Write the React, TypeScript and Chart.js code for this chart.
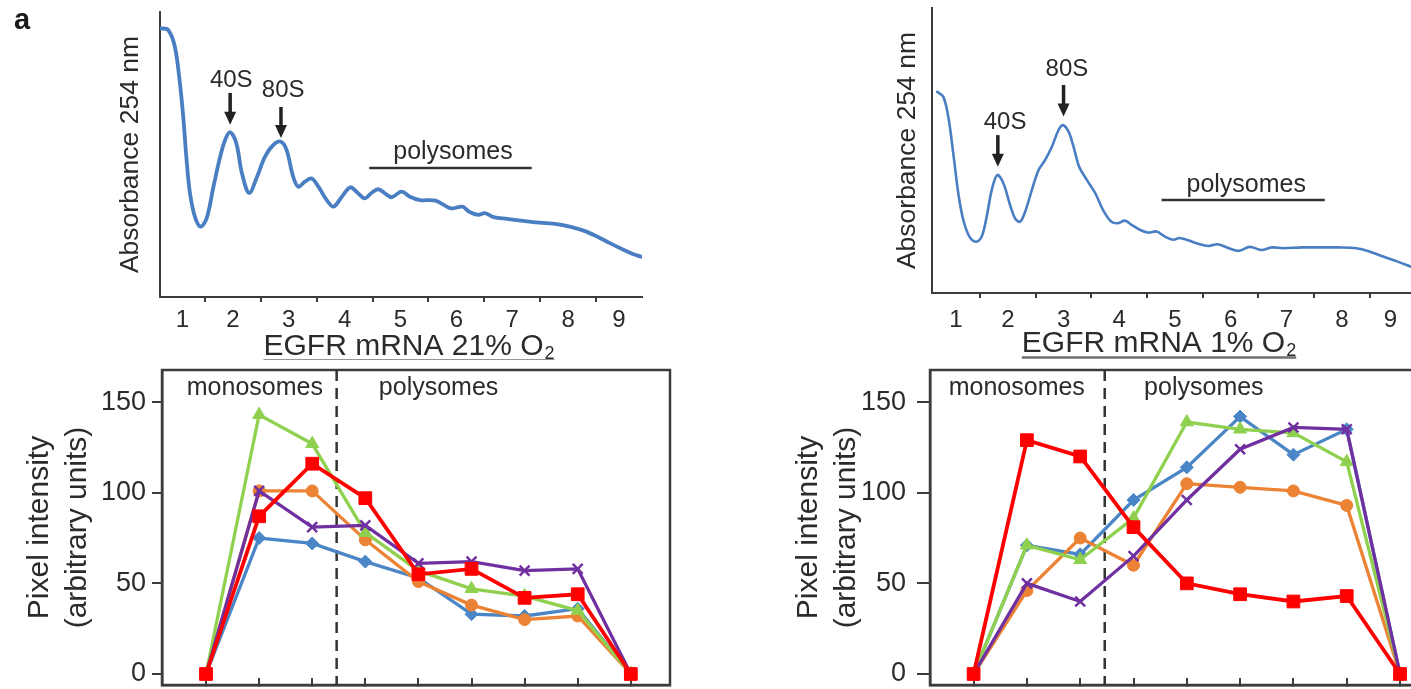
import { useEffect, useRef } from 'react';
import { Chart, registerables } from 'chart.js';

Chart.register(...registerables);

const FONT = '"Liberation Sans", Arial, Helvetica, sans-serif';
const INK = '#2b2b2b';
const AXIS = '#3c3c3c';
const TRACE_COLOR = '#4a7ec3';

// ---------- gradient fractions ----------
const fractionLabels = ['1', '2', '3', '4', '5', '6', '7', '8', '9'];
const fractionBoundaries = [1, 2, 3, 4, 5, 6, 7, 8];

// ---------- A254 trace, EGFR mRNA 21% O2 (position in fraction units, absorbance in % of axis) ----------
const trace21Position = [
  0.19, 0.34, 0.46, 0.55, 0.61, 0.67, 0.73, 0.82, 0.92, 1.03, 1.15, 1.27, 1.36, 1.45, 1.56, 1.66, 1.79, 1.93, 2.07, 2.22,
  2.36, 2.46, 2.58, 2.67, 2.79, 2.91, 3.03, 3.18, 3.3, 3.45, 3.6, 3.74, 3.86, 3.98, 4.1, 4.22, 4.34, 4.52, 4.67, 4.85,
  5.13, 5.4, 5.61, 5.73, 5.89, 6.01, 6.17, 6.41, 6.66, 6.98, 7.3, 7.53, 7.79, 8.02, 8.26, 8.5, 8.66, 8.81,
];
const trace21Absorbance = [
  94.3, 93.7, 87.8, 75.1, 63.2, 48.1, 36.5, 28.1, 24.7, 27.7, 38.6, 49.1, 55.1, 57.8, 54.0, 43.5, 36.5, 42.1, 49.1, 53.3,
  54.5, 51.6, 42.1, 38.7, 40.5, 41.6, 38.7, 34.0, 31.7, 35.2, 38.5, 36.4, 34.6, 36.5, 37.8, 36.4, 35.0, 37.0, 35.2, 34.0,
  33.8, 31.1, 31.7, 29.9, 28.8, 29.4, 28.0, 27.4, 26.8, 26.1, 25.6, 24.7, 23.2, 21.2, 18.8, 16.5, 15.1, 14.1,
];

// ---------- A254 trace, EGFR mRNA 1% O2 ----------
const trace1Position = [
  0.23, 0.34, 0.43, 0.52, 0.61, 0.7, 0.81, 0.93, 1.03, 1.12, 1.21, 1.31, 1.42, 1.53, 1.63, 1.72, 1.81, 1.93, 2.05, 2.17,
  2.29, 2.41, 2.49, 2.59, 2.68, 2.78, 2.92, 3.07, 3.21, 3.36, 3.48, 3.6, 3.72, 3.87, 4.02, 4.17, 4.32, 4.47, 4.59, 4.9,
  5.1, 5.27, 5.47, 5.65, 5.84, 6.05, 6.24, 6.45, 6.78, 7.1, 7.43, 7.76, 8.0, 8.25, 8.5, 8.74,
];
const trace1Absorbance = [
  70.6, 68.9, 61.9, 49.0, 35.0, 25.6, 19.8, 18.0, 19.8, 26.8, 36.1, 41.4, 38.5, 31.5, 26.2, 25.0, 28.5, 36.1, 43.1, 46.7,
  51.3, 57.2, 58.9, 56.6, 51.3, 44.3, 39.6, 35.0, 29.1, 25.0, 24.5, 25.4, 23.9, 22.2, 21.2, 21.6, 19.8, 18.7, 19.3, 17.4,
  16.5, 17.1, 15.7, 14.8, 16.2, 15.1, 16.0, 15.7, 16.0, 16.0, 16.0, 15.7, 14.5, 12.7, 11.0, 9.2,
];

// ---------- EGFR mRNA pixel intensity per fraction ----------
const fractions = [1, 2, 3, 4, 5, 6, 7, 8, 9];
const intensityTicks = [0, 50, 100, 150];

const normoxiaRed = [0, 87, 116, 97, 55, 58, 42, 44, 0];
const normoxiaPurple = [0, 101, 81, 82, 61, 62, 57, 58, 0];
const normoxiaGreen = [0, 143, 127, 78, 57, 47, 43, 35, 0];
const normoxiaOrange = [0, 101, 101, 74, 51, 38, 30, 32, 0];
const normoxiaBlue = [0, 75, 72, 62, 53, 33, 32, 36, 0];

const hypoxiaRed = [0, 129, 120, 81, 50, 44, 40, 43, 0];
const hypoxiaPurple = [0, 50, 40, 65, 96, 124, 136, 135, 0];
const hypoxiaGreen = [0, 71, 63, 86, 139, 135, 133, 117, 0];
const hypoxiaOrange = [0, 46, 75, 60, 105, 103, 101, 93, 0];
const hypoxiaBlue = [0, 71, 66, 96, 114, 142, 121, 135, 0];

const seriesStyles = [
  { color: '#ff0000', point: 'rect', radius: 9, width: 3.8 },
  { color: '#7030a0', point: 'crossRot', radius: 7, width: 3.3 },
  { color: '#8fd14f', point: 'triangle', radius: 7.5, width: 3.3 },
  { color: '#ec8233', point: 'circle', radius: 6, width: 3.3 },
  { color: '#4a86c6', point: 'rectRot', radius: 6.5, width: 3.3 },
];

// ---------- drawing helpers ----------
function drawItems(chart: any, items: any[]) {
  const { ctx, scales } = chart;
  const x = scales.x;
  const y = scales.y;
  ctx.save();
  for (const it of items) {
    if (it.kind === 'text') {
      ctx.font = `${it.size}px ${FONT}`;
      ctx.fillStyle = INK;
      ctx.textAlign = 'center';
      ctx.textBaseline = 'middle';
      ctx.fillText(it.text, x.getPixelForValue(it.x), y.getPixelForValue(it.y));
    } else if (it.kind === 'arrow') {
      const px = x.getPixelForValue(it.x);
      const y1 = y.getPixelForValue(it.from);
      const y2 = y.getPixelForValue(it.to);
      const head = 13;
      const half = 6;
      ctx.strokeStyle = '#222';
      ctx.lineWidth = 3.5;
      ctx.beginPath();
      ctx.moveTo(px, y1);
      ctx.lineTo(px, y2 - head + 1);
      ctx.stroke();
      ctx.fillStyle = '#222';
      ctx.beginPath();
      ctx.moveTo(px - half, y2 - head);
      ctx.lineTo(px + half, y2 - head);
      ctx.lineTo(px, y2);
      ctx.closePath();
      ctx.fill();
    } else if (it.kind === 'bar') {
      ctx.strokeStyle = '#333';
      ctx.lineWidth = 2.5;
      ctx.beginPath();
      const py = y.getPixelForValue(it.y);
      ctx.moveTo(x.getPixelForValue(it.x1), py);
      ctx.lineTo(x.getPixelForValue(it.x2), py);
      ctx.stroke();
    }
  }
  ctx.restore();
}

function drawXTitle(chart: any, t: any) {
  const { ctx } = chart;
  ctx.save();
  ctx.font = `30px ${FONT}`;
  const w1 = ctx.measureText(t.text).width;
  ctx.font = `18px ${FONT}`;
  const w2 = ctx.measureText(t.sub).width;
  const total = w1 + 1 + w2;
  const x0 = t.cx - total / 2;
  ctx.fillStyle = INK;
  ctx.textAlign = 'left';
  ctx.textBaseline = 'alphabetic';
  ctx.font = `30px ${FONT}`;
  ctx.fillText(t.text, x0, t.baseline);
  ctx.font = `18px ${FONT}`;
  ctx.fillText(t.sub, x0 + w1 + 1, t.baseline + 4);
  ctx.strokeStyle = '#707070';
  ctx.lineWidth = 2.5;
  ctx.beginPath();
  ctx.moveTo(x0, t.baseline + 5.5);
  ctx.lineTo(x0 + total, t.baseline + 5.5);
  ctx.stroke();
  ctx.restore();
}

function figurePlugin(cfg: any) {
  return {
    id: 'figureDecor',
    beforeDatasetsDraw(chart: any) {
      const { ctx, chartArea: a, scales } = chart;
      ctx.save();
      if (cfg.frame) {
        ctx.strokeStyle = AXIS;
        ctx.lineWidth = 2.5;
        ctx.strokeRect(a.left, a.top, a.right - a.left, a.bottom - a.top);
      }
      if (cfg.dividerAt != null) {
        const px = scales.x.getPixelForValue(cfg.dividerAt);
        ctx.setLineDash([11, 7]);
        ctx.lineWidth = 2.5;
        ctx.strokeStyle = '#333';
        ctx.beginPath();
        ctx.moveTo(px, a.top);
        ctx.lineTo(px, a.bottom);
        ctx.stroke();
      }
      ctx.restore();
    },
    afterDraw(chart: any) {
      drawItems(chart, cfg.items || []);
      if (cfg.xTitle) drawXTitle(chart, cfg.xTitle);
      if (cfg.letter) {
        const { ctx } = chart;
        ctx.save();
        ctx.font = `bold 29px ${FONT}`;
        ctx.fillStyle = '#1a1a1a';
        ctx.textAlign = 'left';
        ctx.textBaseline = 'alphabetic';
        ctx.fillText(cfg.letter.text, cfg.letter.x, cfg.letter.y);
        ctx.restore();
      }
    },
  };
}

function noPad(s: any) {
  s.paddingTop = 0;
  s.paddingBottom = 0;
  s.paddingLeft = 0;
  s.paddingRight = 0;
}

function traceConfig(o: any): any {
  const edges = [o.xMin, ...fractionBoundaries, o.xMax];
  const mids = fractionLabels.map((_, i) => (edges[i] + edges[i + 1]) / 2);
  const isBoundary = (v: number) => fractionBoundaries.some((b) => Math.abs(b - v) < 1e-6);
  return {
    type: 'line',
    data: {
      datasets: [
        {
          label: o.label,
          data: o.xs.map((xv: number, i: number) => ({ x: xv, y: o.ys[i] })),
          borderColor: TRACE_COLOR,
          borderWidth: o.lineWidth,
          pointRadius: 0,
          tension: 0.35,
          borderJoinStyle: 'round',
          borderCapStyle: 'round',
          fill: false,
        },
      ],
    },
    options: {
      animation: false,
      responsive: false,
      events: [],
      layout: { autoPadding: false, padding: { left: o.padLeft, top: o.padTop, right: o.padRight, bottom: 0 } },
      plugins: { legend: { display: false }, tooltip: { enabled: false } },
      scales: {
        x: {
          type: 'linear',
          min: o.xMin,
          max: o.xMax,
          afterBuildTicks: (s: any) => {
            s.ticks = [...fractionBoundaries, ...mids].sort((a, b) => a - b).map((v) => ({ value: v }));
          },
          afterFit: (s: any) => {
            s.height = o.xHeight;
            noPad(s);
          },
          ticks: {
            autoSkip: false,
            maxRotation: 0,
            minRotation: 0,
            padding: o.labelPad,
            color: INK,
            font: { family: FONT, size: 24 },
            callback: (v: number) => {
              const i = mids.findIndex((m) => Math.abs(m - v) < 1e-6);
              return i >= 0 ? fractionLabels[i] : '';
            },
          },
          grid: {
            drawOnChartArea: false,
            drawTicks: true,
            tickLength: 5,
            lineWidth: 2,
            color: (c: any) => (c.tick && isBoundary(c.tick.value) ? AXIS : 'rgba(0,0,0,0)'),
          },
          border: { display: true, color: AXIS, width: 2 },
        },
        y: {
          type: 'linear',
          min: 0,
          max: 100,
          afterFit: (s: any) => {
            s.width = o.yWidth;
            noPad(s);
          },
          ticks: { display: false },
          grid: { display: false },
          border: { display: true, color: AXIS, width: 2 },
          title: {
            display: true,
            text: 'Absorbance 254 nm',
            color: INK,
            font: { family: FONT, size: 26.5, lineHeight: 1.2 },
            padding: { top: o.titlePad, bottom: 0 },
          },
        },
      },
    },
    plugins: [figurePlugin({ items: o.items, xTitle: o.xTitle, letter: o.letter })],
  };
}

function profileConfig(o: any): any {
  const datasets = o.series.map((vals: number[], i: number) => {
    const s = seriesStyles[i];
    return {
      label: `replicate ${i + 1}`,
      data: fractions.map((f, j) => ({ x: f, y: vals[j] })),
      borderColor: s.color,
      backgroundColor: s.color,
      borderWidth: s.width,
      pointStyle: s.point,
      pointRadius: s.radius,
      pointBackgroundColor: s.color,
      pointBorderColor: s.color,
      pointBorderWidth: s.point === 'crossRot' ? 2.5 : 1,
      tension: 0,
      fill: false,
    };
  });
  return {
    type: 'line',
    data: { datasets },
    options: {
      animation: false,
      responsive: false,
      events: [],
      layout: { autoPadding: false, padding: { left: o.padLeft, top: 10, right: o.padRight, bottom: 0 } },
      plugins: { legend: { display: false }, tooltip: { enabled: false } },
      scales: {
        x: {
          type: 'linear',
          min: o.xMin,
          max: o.xMax,
          afterBuildTicks: (s: any) => {
            s.ticks = fractions.map((v) => ({ value: v }));
          },
          afterFit: (s: any) => {
            s.height = 4;
            noPad(s);
          },
          ticks: { display: false },
          grid: { drawOnChartArea: false, drawTicks: true, tickLength: -7, color: AXIS, lineWidth: 2 },
          border: { display: true, color: AXIS, width: 2.5 },
        },
        y: {
          type: 'linear',
          min: -6.07,
          max: 167.7,
          afterBuildTicks: (s: any) => {
            s.ticks = intensityTicks.map((v) => ({ value: v }));
          },
          afterFit: (s: any) => {
            s.width = o.yWidth;
            noPad(s);
          },
          ticks: { color: INK, padding: o.tickPad, font: { family: FONT, size: 27 } },
          grid: { drawOnChartArea: false, drawTicks: true, tickLength: o.tickLen, color: AXIS, lineWidth: 2 },
          border: { display: true, color: AXIS, width: 2.5 },
          title: {
            display: true,
            text: ['Pixel intensity', '(arbitrary units)'],
            color: INK,
            font: { family: FONT, size: 30, lineHeight: 1.267 },
            padding: { top: 6, bottom: 0 },
          },
        },
      },
    },
    plugins: [figurePlugin({ frame: true, dividerAt: 3.46, items: o.items })],
  };
}

export default function App() {
  const tl = useRef<HTMLCanvasElement>(null);
  const tr = useRef<HTMLCanvasElement>(null);
  const bl = useRef<HTMLCanvasElement>(null);
  const br = useRef<HTMLCanvasElement>(null);

  useEffect(() => {
    const charts: Chart[] = [];
    charts.push(
      new Chart(
        tl.current as HTMLCanvasElement,
        traceConfig({
          label: 'A254 21% O2',
          xs: trace21Position,
          ys: trace21Absorbance,
          xMin: 0.194,
          xMax: 8.824,
          padLeft: 100,
          padTop: 12,
          padRight: 58,
          yWidth: 60,
          xHeight: 63,
          titlePad: 15,
          labelPad: 4,
          lineWidth: 3.8,
          items: [
            { kind: 'text', text: '40S', x: 1.47, y: 76.1, size: 24 },
            { kind: 'text', text: '80S', x: 2.4, y: 72.6, size: 24 },
            { kind: 'arrow', x: 1.45, from: 71.6, to: 60.4 },
            { kind: 'arrow', x: 2.36, from: 66.7, to: 55.8 },
            { kind: 'text', text: 'polysomes', x: 5.44, y: 50.9, size: 25 },
            { kind: 'bar', x1: 3.94, x2: 6.85, y: 45.3 },
          ],
          xTitle: { text: 'EGFR mRNA 21% O', sub: '2', cx: 409, baseline: 355 },
          letter: { text: 'a', x: 14, y: 29 },
        })
      )
    );
    charts.push(
      new Chart(
        tr.current as HTMLCanvasElement,
        traceConfig({
          label: 'A254 1% O2',
          xs: trace1Position,
          ys: trace1Absorbance,
          xMin: 0.138,
          xMax: 8.738,
          padLeft: 180,
          padTop: 8,
          padRight: 0,
          yWidth: 52,
          xHeight: 67,
          titlePad: 12,
          labelPad: 8,
          lineWidth: 2.6,
          items: [
            { kind: 'text', text: '40S', x: 1.45, y: 60.0, size: 24 },
            { kind: 'text', text: '80S', x: 2.56, y: 78.6, size: 24 },
            { kind: 'arrow', x: 1.32, from: 55.4, to: 44.3 },
            { kind: 'arrow', x: 2.5, from: 73.0, to: 61.9 },
            { kind: 'text', text: 'polysomes', x: 5.78, y: 37.9, size: 25 },
            { kind: 'bar', x1: 4.26, x2: 7.19, y: 32.6 },
          ],
          xTitle: { text: 'EGFR mRNA 1% O', sub: '2', cx: 459, baseline: 352 },
        })
      )
    );
    charts.push(
      new Chart(
        bl.current as HTMLCanvasElement,
        profileConfig({
          series: [normoxiaRed, normoxiaPurple, normoxiaGreen, normoxiaOrange, normoxiaBlue],
          xMin: 0.171,
          xMax: 9.738,
          padLeft: 15,
          padRight: 30,
          yWidth: 147,
          tickLen: 10,
          tickPad: 6,
          items: [
            { kind: 'text', text: 'monosomes', x: 1.92, y: 157.7, size: 25 },
            { kind: 'text', text: 'polysomes', x: 5.38, y: 157.7, size: 25 },
          ],
        })
      )
    );
    charts.push(
      new Chart(
        br.current as HTMLCanvasElement,
        profileConfig({
          series: [hypoxiaRed, hypoxiaPurple, hypoxiaGreen, hypoxiaOrange, hypoxiaBlue],
          xMin: 0.182,
          xMax: 9.75,
          padLeft: 84,
          padRight: 5,
          yWidth: 146,
          tickLen: 13,
          tickPad: 11,
          items: [
            { kind: 'text', text: 'monosomes', x: 1.81, y: 157.7, size: 25 },
            { kind: 'text', text: 'polysomes', x: 5.32, y: 157.7, size: 25 },
          ],
        })
      )
    );
    return () => charts.forEach((c) => c.destroy());
  }, []);

  return (
    <div
      style={{
        position: 'absolute',
        left: 0,
        top: 0,
        width: 1411,
        height: 689,
        overflow: 'hidden',
        background: '#ffffff',
      }}
    >
      <canvas ref={tl} width={700} height={360} style={{ position: 'absolute', left: 0, top: 0 }} />
      <canvas ref={tr} width={711} height={360} style={{ position: 'absolute', left: 700, top: 0 }} />
      <canvas ref={bl} width={700} height={329} style={{ position: 'absolute', left: 0, top: 360 }} />
      <canvas ref={br} width={745} height={329} style={{ position: 'absolute', left: 700, top: 360 }} />
    </div>
  );
}
